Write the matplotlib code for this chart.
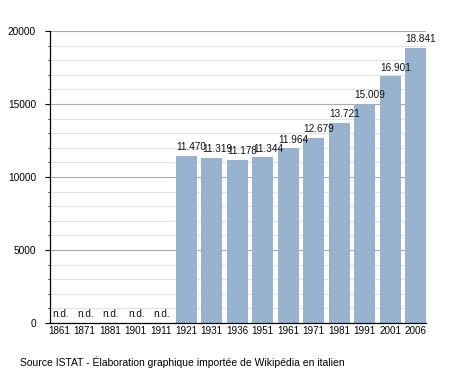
import numpy as np
import matplotlib.pyplot as plt
from matplotlib.ticker import MultipleLocator

# Census years and population (n.d. = no data)
years = ["1861", "1871", "1881", "1901", "1911", "1921", "1931", "1936",
         "1951", "1961", "1971", "1981", "1991", "2001", "2006"]
population = [None, None, None, None, None, 11470, 11319, 11178,
              11344, 11964, 12679, 13721, 15009, 16901, 18841]
value_labels = ["n.d.", "n.d.", "n.d.", "n.d.", "n.d.", "11.470", "11.319", "11.178",
                "11.344", "11.964", "12.679", "13.721", "15.009", "16.901", "18.841"]
source = "Source ISTAT - Élaboration graphique importée de Wikipédia en italien"

plt.rcParams['font.family'] = ['Liberation Sans', 'DejaVu Sans']

fig = plt.figure(figsize=(4.55, 3.73), dpi=100)
ax = fig.add_axes([50 / 455, 1 - 323 / 373, 376 / 455, 292 / 373])

x = np.arange(len(years))
heights = [v if v is not None else 0 for v in population]
width = 0.82
ax.bar(x, heights, width=width, color="#98b3cf", zorder=2)

for i, (v, lab) in enumerate(zip(population, value_labels)):
    if v is None:
        ax.text(i - width / 2 + 0.13, 250, lab, ha="left", va="bottom", fontsize=7.2, color="#111111")
    else:
        ax.text(i - width / 2 + 0.02, v + 250, lab, ha="left", va="bottom", fontsize=7.2, color="#111111")

ax.set_xlim(-width / 2 + 0.06, len(years) - 1 + width / 2)
ax.set_ylim(0, 20000)
ax.set_xticks(x)
ax.set_xticklabels(years, fontsize=7.1)
ax.tick_params(axis="x", length=0, pad=2.5)
ax.yaxis.set_major_locator(MultipleLocator(5000))
ax.yaxis.set_minor_locator(MultipleLocator(1000))
ax.tick_params(axis="y", which="major", length=3.6, labelsize=7.3, pad=6.5)
ax.tick_params(axis="y", which="minor", length=1.8)

ax.grid(axis="y", which="major", color="#aaaaaa", linewidth=0.8, zorder=0)
ax.grid(axis="y", which="minor", color="#e2e2e2", linewidth=0.8, zorder=0)

for s in ["top", "right"]:
    ax.spines[s].set_visible(False)
ax.spines["left"].set_linewidth(0.9)
ax.spines["bottom"].set_linewidth(0.9)

fig.text(20 / 455, 1 - 362 / 373, source, fontsize=7.5, ha="left", va="center")

fig.savefig("out.png", dpi=100)
